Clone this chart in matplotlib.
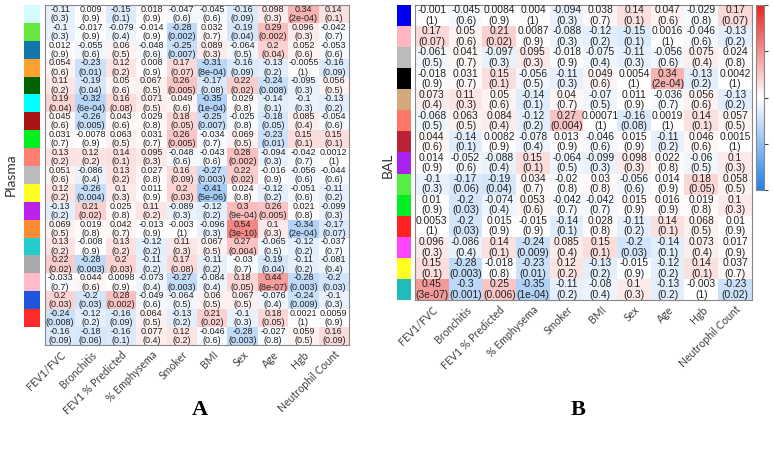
import numpy as np
import matplotlib
matplotlib.use("Agg")
import matplotlib.pyplot as plt
from matplotlib.colors import LinearSegmentedColormap, ListedColormap

columns = ["FEV1/FVC", "Bronchitis", "FEV1 % Predicted", "% Emphysema", "Smoker",
           "BMI", "Sex", "Age", "Hgb", "Neutrophil Count"]

# Plasma (panel A): correlation values and p-values
plasma_r = [
    [-0.11, 0.009, -0.15, 0.018, -0.047, -0.045, -0.16, 0.098, 0.34, 0.14],
    [-0.1, -0.017, -0.079, -0.014, -0.28, 0.032, -0.19, 0.29, 0.096, -0.042],
    [0.012, -0.055, 0.06, -0.048, -0.25, 0.089, -0.064, 0.2, 0.052, -0.053],
    [0.054, -0.23, 0.12, 0.008, 0.17, -0.31, -0.16, -0.13, -0.0055, -0.16],
    [0.11, -0.19, 0.05, 0.067, 0.26, -0.17, 0.22, -0.24, -0.095, 0.056],
    [0.19, -0.32, 0.16, 0.071, 0.049, -0.35, 0.029, -0.14, -0.1, -0.13],
    [0.045, -0.26, 0.043, 0.029, 0.18, -0.25, -0.025, -0.18, 0.085, -0.054],
    [0.031, -0.0078, 0.063, 0.031, 0.26, -0.034, 0.069, -0.23, 0.15, 0.15],
    [0.13, 0.12, 0.14, 0.095, -0.048, -0.043, 0.28, -0.094, -0.042, 0.0012],
    [0.051, -0.086, 0.13, 0.027, 0.16, -0.27, 0.22, -0.016, -0.056, -0.044],
    [0.12, -0.26, 0.1, 0.011, 0.2, -0.41, 0.024, -0.12, -0.051, -0.11],
    [-0.13, 0.21, 0.025, 0.11, -0.089, -0.12, 0.3, 0.26, 0.021, -0.099],
    [0.069, 0.019, 0.042, -0.013, -0.003, -0.096, 0.54, 0.1, -0.34, -0.17],
    [0.13, -0.008, 0.13, -0.12, 0.11, 0.067, 0.27, -0.065, -0.12, -0.037],
    [0.22, -0.28, 0.2, -0.11, 0.17, -0.11, -0.03, -0.19, -0.11, -0.081],
    [-0.033, 0.044, 0.0098, -0.073, -0.27, -0.084, 0.18, 0.44, -0.28, -0.2],
    [0.2, -0.2, 0.28, -0.049, -0.064, 0.06, 0.067, -0.076, -0.24, -0.1],
    [-0.24, -0.12, -0.16, 0.064, -0.13, 0.21, -0.1, 0.18, 0.0021, 0.0059],
    [-0.16, -0.18, -0.16, 0.077, 0.12, -0.046, -0.28, -0.027, 0.059, 0.16],
]
plasma_p = [
    ["0.3", "0.9", "0.1", "0.9", "0.6", "0.6", "0.09", "0.3", "2e-04", "0.1"],
    ["0.3", "0.9", "0.4", "0.9", "0.002", "0.7", "0.04", "0.002", "0.3", "0.7"],
    ["0.9", "0.6", "0.5", "0.6", "0.007", "0.3", "0.5", "0.04", "0.6", "0.6"],
    ["0.6", "0.01", "0.2", "0.9", "0.07", "8e-04", "0.09", "0.2", "1", "0.09"],
    ["0.2", "0.04", "0.6", "0.5", "0.005", "0.08", "0.02", "0.008", "0.3", "0.5"],
    ["0.04", "6e-04", "0.08", "0.5", "0.6", "1e-04", "0.8", "0.1", "0.3", "0.2"],
    ["0.6", "0.005", "0.6", "0.8", "0.05", "0.007", "0.8", "0.05", "0.4", "0.6"],
    ["0.7", "0.9", "0.5", "0.7", "0.005", "0.7", "0.5", "0.01", "0.1", "0.1"],
    ["0.2", "0.2", "0.1", "0.3", "0.6", "0.6", "0.002", "0.3", "0.7", "1"],
    ["0.6", "0.4", "0.2", "0.8", "0.09", "0.003", "0.02", "0.9", "0.6", "0.6"],
    ["0.2", "0.004", "0.3", "0.9", "0.03", "5e-06", "0.8", "0.2", "0.6", "0.2"],
    ["0.2", "0.02", "0.8", "0.2", "0.3", "0.2", "9e-04", "0.005", "0.8", "0.3"],
    ["0.5", "0.8", "0.7", "0.9", "1", "0.3", "3e-10", "0.3", "2e-04", "0.07"],
    ["0.2", "0.9", "0.2", "0.2", "0.3", "0.5", "0.004", "0.5", "0.2", "0.7"],
    ["0.02", "0.003", "0.03", "0.2", "0.08", "0.2", "0.7", "0.04", "0.2", "0.4"],
    ["0.7", "0.6", "0.9", "0.4", "0.003", "0.4", "0.05", "8e-07", "0.003", "0.03"],
    ["0.03", "0.03", "0.002", "0.6", "0.5", "0.5", "0.5", "0.4", "0.009", "0.3"],
    ["0.008", "0.2", "0.09", "0.5", "0.2", "0.02", "0.3", "0.05", "1", "0.9"],
    ["0.09", "0.06", "0.1", "0.4", "0.2", "0.6", "0.003", "0.8", "0.5", "0.09"],
]
plasma_colors = ["#d4fbfb", "#66e840", "#1177aa", "#ffa030", "#006400", "#00ffff",
                 "#a81414", "#00ee20", "#ff7f70", "#bbbbbb", "#ffff22", "#bb22ee",
                 "#ff8c30", "#22cccc", "#aaaaaa", "#ffbbcc", "#2255dd", "#ff2a2a",
                 "#ffffff"]

# BAL (panel B)
bal_r = [
    [-0.001, -0.045, 0.0084, 0.004, -0.094, 0.038, 0.14, 0.047, -0.029, 0.17],
    [0.17, 0.05, 0.21, 0.0087, -0.088, -0.12, -0.15, 0.0016, -0.046, -0.13],
    [-0.061, 0.041, -0.097, 0.095, -0.018, -0.075, -0.11, -0.056, 0.075, 0.024],
    [-0.018, 0.031, 0.15, -0.056, -0.11, 0.049, 0.0054, 0.34, -0.13, 0.0042],
    [0.073, 0.11, 0.05, -0.14, 0.04, -0.07, 0.011, -0.036, 0.056, -0.13],
    [-0.068, 0.063, 0.084, -0.12, 0.27, 0.00071, -0.16, 0.0019, 0.14, 0.057],
    [0.044, -0.14, 0.0082, -0.078, 0.013, -0.046, 0.015, -0.11, 0.046, 0.0015],
    [0.014, -0.052, -0.088, 0.15, -0.064, -0.099, 0.098, 0.022, -0.06, 0.1],
    [-0.1, -0.17, -0.19, 0.034, -0.02, 0.03, -0.056, 0.014, 0.18, 0.058],
    [0.01, -0.2, -0.074, 0.053, -0.042, -0.042, 0.015, 0.016, 0.019, 0.1],
    [0.0053, -0.2, 0.015, -0.015, -0.14, 0.028, -0.11, 0.14, 0.068, 0.01],
    [0.096, -0.086, 0.14, -0.24, 0.085, 0.15, -0.2, -0.14, 0.073, 0.017],
    [0.15, -0.28, -0.018, -0.23, 0.12, -0.13, -0.015, -0.12, 0.14, 0.037],
    [0.45, -0.3, 0.25, -0.35, -0.11, -0.08, 0.1, -0.13, -0.003, -0.23],
]
bal_p = [
    ["1", "0.6", "0.9", "1", "0.3", "0.7", "0.1", "0.6", "0.8", "0.07"],
    ["0.07", "0.6", "0.02", "0.9", "0.3", "0.2", "0.1", "1", "0.6", "0.2"],
    ["0.5", "0.7", "0.3", "0.3", "0.9", "0.4", "0.3", "0.6", "0.4", "0.8"],
    ["0.9", "0.7", "0.1", "0.5", "0.3", "0.6", "1", "2e-04", "0.2", "1"],
    ["0.4", "0.3", "0.6", "0.1", "0.7", "0.5", "0.9", "0.7", "0.6", "0.2"],
    ["0.5", "0.5", "0.4", "0.2", "0.004", "1", "0.08", "1", "0.1", "0.5"],
    ["0.6", "0.1", "0.9", "0.4", "0.9", "0.6", "0.9", "0.2", "0.6", "1"],
    ["0.9", "0.6", "0.4", "0.1", "0.5", "0.3", "0.3", "0.8", "0.5", "0.3"],
    ["0.3", "0.06", "0.04", "0.7", "0.8", "0.8", "0.6", "0.9", "0.05", "0.5"],
    ["0.9", "0.03", "0.4", "0.6", "0.7", "0.7", "0.9", "0.9", "0.8", "0.3"],
    ["1", "0.03", "0.9", "0.9", "0.1", "0.8", "0.2", "0.1", "0.5", "0.9"],
    ["0.3", "0.4", "0.1", "0.009", "0.4", "0.1", "0.03", "0.1", "0.4", "0.9"],
    ["0.1", "0.003", "0.8", "0.01", "0.2", "0.2", "0.9", "0.2", "0.1", "0.7"],
    ["3e-07", "0.001", "0.006", "1e-04", "0.2", "0.4", "0.3", "0.2", "1", "0.02"],
]
bal_colors = ["#0000ee", "#ffb6c1", "#bbbbbb", "#000000", "#d2a87d", "#ff7766",
              "#bb2233", "#aa22ee", "#55ee44", "#00ee22", "#ff2222", "#ff44ff",
              "#ffff22", "#22bbbb"]

cmap = LinearSegmentedColormap.from_list("rb", ["#1f80e8", "#ffffff", "#e8231f"])
W, H = 774, 455


def px_axes(fig, x0, y0, x1, y1):
    return fig.add_axes([x0 / W, 1 - y1 / H, (x1 - x0) / W, (y1 - y0) / H])


def draw_panel(fig, r, p, colors, box, strip, label, label_xy, letter, letter_xy, fs):
    r = np.array(r)
    ax = px_axes(fig, *box)
    ax.imshow(r, cmap=cmap, vmin=-1, vmax=1, aspect="auto")
    for i in range(r.shape[0]):
        for j in range(r.shape[1]):
            ax.text(j, i, "%g\n(%s)" % (r[i, j], p[i][j]), ha="center", va="center",
                    fontsize=fs, color="#222222", family="Liberation Sans", linespacing=1.05)
    ax.set_yticks([])
    ax.set_xticks(range(len(columns)))
    ax.set_xticklabels(columns, rotation=45, ha="right", rotation_mode="anchor",
                       fontsize=7.6, color="#404040", family="Lato")
    ax.tick_params(axis="x", length=0, pad=3)
    for s in ax.spines.values():
        s.set_color("#888888")
        s.set_linewidth(0.8)

    sax = px_axes(fig, *strip)
    sax.imshow(np.arange(len(colors)).reshape(-1, 1), cmap=ListedColormap(colors),
               aspect="auto", interpolation="nearest")
    sax.axis("off")

    fig.text(label_xy[0] / W, 1 - label_xy[1] / H, label, rotation=90, ha="center",
             va="center", fontsize=10, color="#333333", family="Lato")
    fig.text(letter_xy[0] / W, 1 - letter_xy[1] / H, letter, ha="center", va="center",
             fontsize=16, fontweight="bold", family="Liberation Serif")
    return ax


fig = plt.figure(figsize=(W / 100, H / 100), dpi=100)

draw_panel(fig, plasma_r, plasma_p, plasma_colors, (45, 5, 349, 345), (24, 5, 40, 345),
           "Plasma", (11, 175), "A", (200, 410), 6.5)
draw_panel(fig, bal_r, bal_p, bal_colors, (415, 5, 752, 300), (397, 5, 411, 300),
           "BAL", (388, 165), "B", (578, 410), 7.4)

# colour scale for the right panel
cax = px_axes(fig, 756, 5, 764, 190)
sm = plt.cm.ScalarMappable(cmap=cmap, norm=plt.Normalize(-1, 1))
cb = fig.colorbar(sm, cax=cax, ticks=[1, 0.5, 0, -0.5, -1])
cb.ax.set_yticklabels(["1", "0.5", "0", "-0.5", "-1"])
cb.ax.tick_params(labelsize=8, length=3, color="#444444", labelcolor="#333333")
cb.outline.set_edgecolor("#888888")

fig.savefig("out.png", dpi=100)
